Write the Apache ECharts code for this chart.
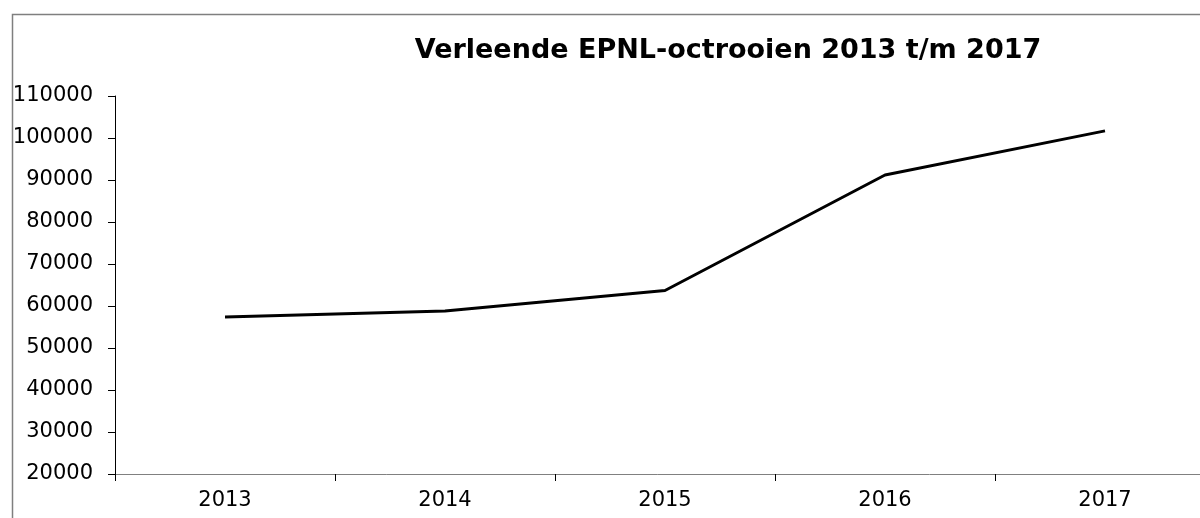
<!DOCTYPE html>
<html>
<head>
<meta charset="utf-8">
<script src="https://cdn.jsdelivr.net/npm/echarts@6/dist/echarts.min.js"></script>
<style>
  html, body { margin: 0; padding: 0; background: #fff; }
  #chart { width: 1200px; height: 518px; }
</style>
</head>
<body>
<div id="chart"></div>
<script>
  var years = ['2013', '2014', '2015', '2016', '2017'];
  var octrooien = [57400, 58800, 63700, 91200, 101700];
  var yMin = 20000;
  var yMax = 110000;
  var yStep = 10000;

  var chart = echarts.init(document.getElementById('chart'));
  var option = {
    animation: false,
    backgroundColor: '#fff',
    textStyle: { fontFamily: 'DejaVu Sans' },
    title: {
      text: 'Verleende EPNL-octrooien 2013 t/m 2017',
      left: 723,
      textAlign: 'center',
      top: 32,
      textStyle: {
        fontFamily: 'DejaVu Sans',
        fontWeight: 'bold',
        fontSize: 27,
        color: '#000'
      }
    },
    graphic: [{
      type: 'rect',
      left: 10,
      top: 12,
      shape: { width: 1200, height: 520 },
      style: { fill: 'none', stroke: '#7f7f7f', lineWidth: 1.5 },
      silent: true
    }],
    grid: {
      left: 115,
      right: -15,
      top: 96,
      bottom: 44,
      containLabel: false,
      outerBoundsMode: 'none'
    },
    xAxis: {
      type: 'category',
      data: years,
      boundaryGap: true,
      axisLine: { lineStyle: { color: '#808080', width: 1 } },
      axisTick: { show: true, length: 7, lineStyle: { color: '#000' } },
      axisLabel: { fontSize: 21, color: '#000', margin: 16, fontFamily: 'DejaVu Sans' },
      splitLine: { show: false }
    },
    yAxis: {
      type: 'value',
      min: yMin,
      max: yMax,
      interval: yStep,
      axisLine: { show: true, lineStyle: { color: '#000', width: 1 } },
      axisTick: { show: true, length: 7, lineStyle: { color: '#000' } },
      axisLabel: {
        fontSize: 21,
        color: '#000',
        margin: 22,
        fontFamily: 'DejaVu Sans',
        formatter: function (v) { return String(v); }
      },
      splitLine: { show: false }
    },
    series: [{
      name: 'Verleende EPNL-octrooien',
      type: 'line',
      data: octrooien,
      symbol: 'none',
      lineStyle: { color: '#000', width: 3 }
    }]
  };
  chart.setOption(option);
</script>
</body>
</html>
